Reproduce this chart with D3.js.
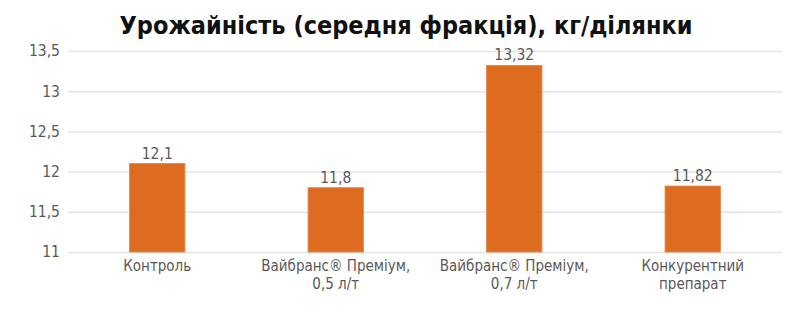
<!DOCTYPE html>
<html>
<head>
<meta charset="utf-8">
<script src="https://cdn.jsdelivr.net/npm/d3@7"></script>
<style>
  body { margin: 0; background: #fff; }
  svg text { font-family: "DejaVu Sans Condensed", "Liberation Sans Narrow", "Roboto", sans-serif; }
</style>
</head>
<body>
<div id="chart"></div>
<script>
// data
const categories = [
  ["Контроль"],
  ["Вайбранс® Преміум,", "0,5 л/т"],
  ["Вайбранс® Преміум,", "0,7 л/т"],
  ["Конкурентний", "препарат"]
];
const values = [12.1, 11.8, 13.32, 11.82];
const tickValues = [11, 11.5, 12, 12.5, 13, 13.5];
const title = "Урожайність (середня фракція), кг/ділянки";

const width = 800, height = 315;
const margin = {top: 51, right: 18, bottom: 63, left: 68};

const fmt = v => String(v).replace('.', ',');

const svg = d3.select('#chart').append('svg')
  .attr('width', width)
  .attr('height', height);

const x = d3.scaleBand()
  .domain(d3.range(categories.length))
  .range([margin.left, width - margin.right])
  .paddingInner(0.69)
  .paddingOuter(0.345);

const y = d3.scaleLinear()
  .domain([11, 13.5])
  .range([height - margin.bottom, margin.top]);

// title
svg.append('text')
  .attr('x', 406)
  .attr('y', 34)
  .attr('text-anchor', 'middle')
  .attr('font-size', 25)
  .attr('font-weight', 'bold')
  .attr('fill', '#111')
  .text(title);

// gridlines + y labels
const yAxis = d3.axisLeft(y)
  .tickValues(tickValues)
  .tickSize(-(width - margin.left - margin.right))
  .tickPadding(8)
  .tickFormat(fmt);

const gy = svg.append('g')
  .attr('transform', 'translate(' + margin.left + ',0)')
  .call(yAxis);
gy.select('.domain').remove();
gy.selectAll('.tick line').attr('stroke', '#e4e4e4').attr('stroke-width', 1.5);
gy.selectAll('.tick text')
  .attr('font-size', 15.5)
  .attr('fill', '#595959');

// bars
svg.append('g')
  .selectAll('rect')
  .data(values)
  .enter().append('rect')
    .attr('x', (d, i) => x(i))
    .attr('y', d => y(d))
    .attr('width', x.bandwidth())
    .attr('height', d => y(11) - y(d))
    .attr('fill', '#dd6b20')
    .attr('stroke', '#e88a4a')
    .attr('stroke-width', 1);

// value labels
svg.append('g')
  .selectAll('text')
  .data(values)
  .enter().append('text')
    .attr('x', (d, i) => x(i) + x.bandwidth() / 2)
    .attr('y', d => y(d) - 5)
    .attr('text-anchor', 'middle')
    .attr('font-size', 15.5)
    .attr('fill', '#595959')
    .text(fmt);

// category labels, one text per line
const lines = [];
categories.forEach((c, i) => c.forEach((t, j) => lines.push({i: i, j: j, t: t})));

svg.append('g')
  .selectAll('text')
  .data(lines)
  .enter().append('text')
    .attr('x', d => x(d.i) + x.bandwidth() / 2)
    .attr('y', d => height - margin.bottom + 19 + d.j * 18)
    .attr('text-anchor', 'middle')
    .attr('font-size', 15)
    .attr('fill', '#595959')
    .text(d => d.t);
</script>
</body>
</html>
